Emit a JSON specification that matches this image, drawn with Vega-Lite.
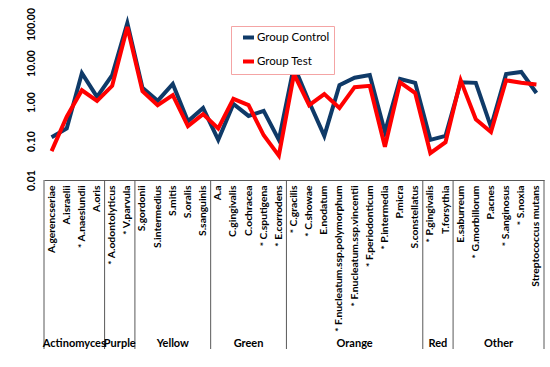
{
  "$schema": "https://vega.github.io/schema/vega-lite/v6.json",
  "padding": {"left": 25, "top": 7, "right": 5, "bottom": 5},
  "background": "white",
  "bounds": "flush",
  "spacing": 0,
  "config": {"view": {"stroke": null}, "font": "Lato"},
  "datasets": {
    "abundance": [
      {"species": "A.gerencseriae", "series": "Group Control", "value": 0.125},
      {"species": "A.gerencseriae", "series": "Group Test", "value": 0.055},
      {"species": "A.israelii", "series": "Group Control", "value": 0.21},
      {"species": "A.israelii", "series": "Group Test", "value": 0.42},
      {"species": "* A.naeslundii", "series": "Group Control", "value": 5.5},
      {"species": "* A.naeslundii", "series": "Group Test", "value": 2.0},
      {"species": "A.oris", "series": "Group Control", "value": 1.35},
      {"species": "A.oris", "series": "Group Test", "value": 1.07},
      {"species": "* A.odontolyticus", "series": "Group Control", "value": 4.9},
      {"species": "* A.odontolyticus", "series": "Group Test", "value": 2.6},
      {"species": "* V.parvula", "series": "Group Control", "value": 105},
      {"species": "* V.parvula", "series": "Group Test", "value": 84},
      {"species": "S.gordonii", "series": "Group Control", "value": 2.3},
      {"species": "S.gordonii", "series": "Group Test", "value": 1.9},
      {"species": "S.intermedius", "series": "Group Control", "value": 1.07},
      {"species": "S.intermedius", "series": "Group Test", "value": 0.83},
      {"species": "S.mitis", "series": "Group Control", "value": 2.9},
      {"species": "S.mitis", "series": "Group Test", "value": 1.5},
      {"species": "S.oralis", "series": "Group Control", "value": 0.32},
      {"species": "S.oralis", "series": "Group Test", "value": 0.24},
      {"species": "S.sanguinis", "series": "Group Control", "value": 0.7},
      {"species": "S.sanguinis", "series": "Group Test", "value": 0.49},
      {"species": "A.a", "series": "Group Control", "value": 0.107},
      {"species": "A.a", "series": "Group Test", "value": 0.21},
      {"species": "C.gingivalis", "series": "Group Control", "value": 0.89},
      {"species": "C.gingivalis", "series": "Group Test", "value": 1.2},
      {"species": "C.ochracea", "series": "Group Control", "value": 0.44},
      {"species": "C.ochracea", "series": "Group Test", "value": 0.83},
      {"species": "* C.sputigena", "series": "Group Control", "value": 0.59},
      {"species": "* C.sputigena", "series": "Group Test", "value": 0.14},
      {"species": "* E.corrodens", "series": "Group Control", "value": 0.107},
      {"species": "* E.corrodens", "series": "Group Test", "value": 0.042},
      {"species": "* C.gracilis", "series": "Group Control", "value": 8.4},
      {"species": "* C.gracilis", "series": "Group Test", "value": 5.2},
      {"species": "* C.showae", "series": "Group Control", "value": 1.0},
      {"species": "* C.showae", "series": "Group Test", "value": 0.83},
      {"species": "E.nodatum", "series": "Group Control", "value": 0.135},
      {"species": "E.nodatum", "series": "Group Test", "value": 1.6},
      {"species": "* F.nucleatum.ssp.polymorphum", "series": "Group Control", "value": 2.7},
      {"species": "* F.nucleatum.ssp.polymorphum", "series": "Group Test", "value": 0.7},
      {"species": "* F.nucleatum.ssp.vincentii", "series": "Group Control", "value": 4.2},
      {"species": "* F.nucleatum.ssp.vincentii", "series": "Group Test", "value": 2.4},
      {"species": "* F.periodonticum", "series": "Group Control", "value": 4.9},
      {"species": "* F.periodonticum", "series": "Group Test", "value": 2.6},
      {"species": "* P.intermedia", "series": "Group Control", "value": 0.17},
      {"species": "* P.intermedia", "series": "Group Test", "value": 0.071},
      {"species": "P.micra", "series": "Group Control", "value": 3.9},
      {"species": "P.micra", "series": "Group Test", "value": 3.2},
      {"species": "S.constellatus", "series": "Group Control", "value": 3.1},
      {"species": "S.constellatus", "series": "Group Test", "value": 1.7},
      {"species": "* P.gingivalis", "series": "Group Control", "value": 0.107},
      {"species": "* P.gingivalis", "series": "Group Test", "value": 0.049},
      {"species": "T.forsythia", "series": "Group Control", "value": 0.135},
      {"species": "T.forsythia", "series": "Group Test", "value": 0.093},
      {"species": "E.saburreum", "series": "Group Control", "value": 3.2},
      {"species": "E.saburreum", "series": "Group Test", "value": 3.6},
      {"species": "* G.morbillorum", "series": "Group Control", "value": 3.1},
      {"species": "* G.morbillorum", "series": "Group Test", "value": 0.36},
      {"species": "P.acnes", "series": "Group Control", "value": 0.23},
      {"species": "P.acnes", "series": "Group Test", "value": 0.17},
      {"species": "* S.anginosus", "series": "Group Control", "value": 5.2},
      {"species": "* S.anginosus", "series": "Group Test", "value": 3.6},
      {"species": "* S.noxia", "series": "Group Control", "value": 5.9},
      {"species": "* S.noxia", "series": "Group Test", "value": 3.1},
      {"species": "Streptococcus mutans", "series": "Group Control", "value": 1.7},
      {"species": "Streptococcus mutans", "series": "Group Test", "value": 2.8}
    ],
    "complexes": [
      {"complex": "Actinomyces", "first": "A.gerencseriae", "last": "A.oris", "anchor": "* A.naeslundii", "centre": "edge"},
      {"complex": "Purple", "first": "* A.odontolyticus", "last": "* V.parvula", "anchor": "* V.parvula", "centre": "edge"},
      {"complex": "Yellow", "first": "S.gordonii", "last": "S.sanguinis", "anchor": "S.mitis", "centre": "band"},
      {"complex": "Green", "first": "A.a", "last": "* E.corrodens", "anchor": "C.ochracea", "centre": "band"},
      {"complex": "Orange", "first": "* C.gracilis", "last": "S.constellatus", "anchor": "* F.nucleatum.ssp.vincentii", "centre": "band"},
      {"complex": "Red", "first": "* P.gingivalis", "last": "T.forsythia", "anchor": "T.forsythia", "centre": "edge"},
      {"complex": "Other", "first": "E.saburreum", "last": "Streptococcus mutans", "anchor": "* S.anginosus", "centre": "edge"}
    ]
  },
  "vconcat": [
    {
      "width": 500,
      "height": 156,
      "data": {"name": "abundance"},
      "mark": {"type": "line", "strokeWidth": 4},
      "encoding": {
        "x": {
          "field": "species",
          "type": "nominal",
          "bandPosition": 0.5,
          "scale": {
            "type": "band",
            "paddingInner": 0,
            "paddingOuter": 0,
            "domain": ["A.gerencseriae", "A.israelii", "* A.naeslundii", "A.oris", "* A.odontolyticus", "* V.parvula", "S.gordonii", "S.intermedius", "S.mitis", "S.oralis", "S.sanguinis", "A.a", "C.gingivalis", "C.ochracea", "* C.sputigena", "* E.corrodens", "* C.gracilis", "* C.showae", "E.nodatum", "* F.nucleatum.ssp.polymorphum", "* F.nucleatum.ssp.vincentii", "* F.periodonticum", "* P.intermedia", "P.micra", "S.constellatus", "* P.gingivalis", "T.forsythia", "E.saburreum", "* G.morbillorum", "P.acnes", "* S.anginosus", "* S.noxia", "Streptococcus mutans"]
          },
          "axis": null
        },
        "y": {
          "field": "value",
          "type": "quantitative",
          "scale": {"type": "log", "domain": [0.01, 100], "nice": false},
          "axis": {
            "values": [0.01, 0.1, 1, 10, 100],
            "format": ".2f",
            "title": null,
            "grid": false,
            "domain": false,
            "ticks": false,
            "labelAngle": -90,
            "labelAlign": "center",
            "labelBaseline": "bottom",
            "labelPadding": 8,
            "labelFont": "Lato",
            "labelFontSize": 10.5,
            "labelFontWeight": "bold",
            "labelColor": "#000000",
            "labelOverlap": false
          }
        },
        "color": {
          "field": "series",
          "type": "nominal",
          "scale": {"domain": ["Group Control", "Group Test"], "range": ["#0f3a68", "#ff0000"]},
          "legend": {
            "title": null,
            "orient": "none",
            "legendX": 187,
            "legendY": 2,
            "strokeColor": "#f4a4a4",
            "fillColor": "#ffffff",
            "padding": 4,
            "symbolOffset": 6,
            "symbolType": "stroke",
            "symbolSize": 121,
            "symbolStrokeWidth": 4,
            "rowPadding": 7,
            "labelOffset": 1,
            "labelFont": "Lato",
            "labelFontSize": 11.5,
            "labelColor": "#000000"
          }
        }
      }
    },
    {
      "width": 500,
      "height": 169,
      "layer": [
        {
          "data": {"name": "complexes"},
          "mark": {"type": "rule", "color": "#595959", "strokeWidth": 1},
          "encoding": {
            "x": {
              "field": "last",
              "type": "nominal",
              "bandPosition": 1,
              "scale": {
                "type": "band",
                "paddingInner": 0,
                "paddingOuter": 0,
                "domain": ["A.gerencseriae", "A.israelii", "* A.naeslundii", "A.oris", "* A.odontolyticus", "* V.parvula", "S.gordonii", "S.intermedius", "S.mitis", "S.oralis", "S.sanguinis", "A.a", "C.gingivalis", "C.ochracea", "* C.sputigena", "* E.corrodens", "* C.gracilis", "* C.showae", "E.nodatum", "* F.nucleatum.ssp.polymorphum", "* F.nucleatum.ssp.vincentii", "* F.periodonticum", "* P.intermedia", "P.micra", "S.constellatus", "* P.gingivalis", "T.forsythia", "E.saburreum", "* G.morbillorum", "P.acnes", "* S.anginosus", "* S.noxia", "Streptococcus mutans"]
              },
              "axis": {
                "orient": "top",
                "title": null,
                "ticks": false,
                "domain": true,
                "domainColor": "#595959",
                "domainWidth": 1,
                "labelAngle": -90,
                "labelAlign": "right",
                "labelBaseline": "middle",
                "labelPadding": -5,
                "labelFont": "Lato",
                "labelFontSize": 10.3,
                "labelFontWeight": "bold",
                "labelColor": "#000000",
                "labelLimit": 0,
                "labelOverlap": false
              }
            }
          }
        },
        {
          "data": {"name": "complexes"},
          "transform": [{"filter": "datum.complex === 'Actinomyces'"}],
          "mark": {"type": "rule", "color": "#595959", "strokeWidth": 1},
          "encoding": {
            "x": {"field": "first", "type": "nominal", "bandPosition": 0}
          }
        },
        {
          "data": {"name": "complexes"},
          "transform": [{"filter": "datum.centre === 'band'"}],
          "mark": {"type": "text", "font": "Lato", "fontSize": 11, "fontWeight": "bold", "baseline": "bottom", "color": "#000000"},
          "encoding": {
            "x": {"field": "anchor", "type": "nominal", "bandPosition": 0.5},
            "y": {"datum": 0, "type": "quantitative", "scale": {"domain": [0, 1]}, "axis": null},
            "text": {"field": "complex"}
          }
        },
        {
          "data": {"name": "complexes"},
          "transform": [{"filter": "datum.centre === 'edge'"}],
          "mark": {"type": "text", "font": "Lato", "fontSize": 11, "fontWeight": "bold", "baseline": "bottom", "color": "#000000"},
          "encoding": {
            "x": {"field": "anchor", "type": "nominal", "bandPosition": 0},
            "y": {"datum": 0, "type": "quantitative"},
            "text": {"field": "complex"}
          }
        }
      ]
    }
  ]
}
